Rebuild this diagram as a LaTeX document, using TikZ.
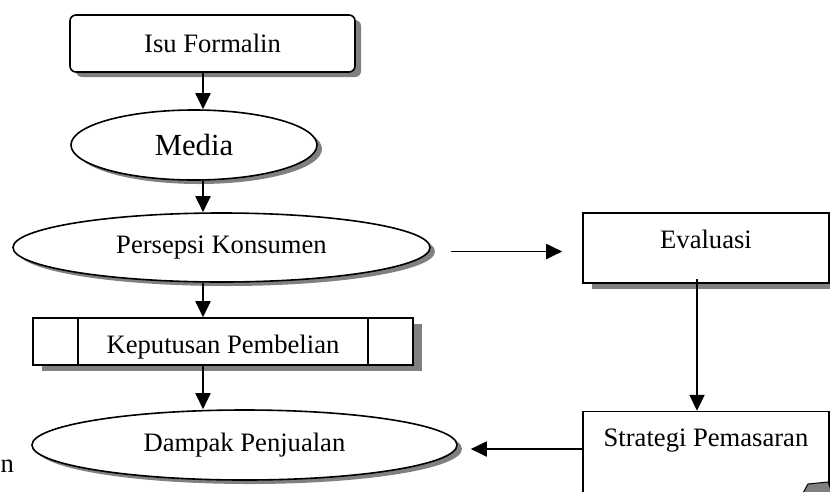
\documentclass[tikz,border=0pt]{standalone}
\usepackage{fontspec}
\setmainfont{Liberation Serif}
\usetikzlibrary{arrows.meta, positioning, shapes.geometric, shadows}

\begin{document}
\begin{tikzpicture}[x=1pt, y=-1pt,
      txt/.style={font=\fontsize{26.6}{30}\selectfont},
      big/.style={font=\fontsize{30.7}{34}\selectfont},
      rbox/.style={draw, rounded corners=6pt, line width=1.6pt, fill=white, txt, inner sep=0pt,
                   drop shadow={shadow xshift=6pt, shadow yshift=-5pt, fill=black!50, opacity=1}},
      oval/.style={ellipse, draw, line width=1.6pt, fill=white, txt, inner sep=0pt,
                   drop shadow={shadow xshift=5pt, shadow yshift=-4pt, fill=black!50, opacity=1}},
      pbox/.style={rectangle, draw, line width=1.6pt, fill=white, txt, inner sep=0pt,
                   drop shadow={shadow xshift=9pt, shadow yshift=-6pt, fill=black!50, opacity=1}},
      ar/.style={-{Triangle[length=16pt, width=15pt]}, line width=1.9pt}
    ]
    \useasboundingbox (0,0) rectangle (830,491);

    % main column
    \node[rbox, minimum width=285pt, minimum height=57pt] (isu) at (212.5,43.5) {Isu Formalin};
    \node[oval, big, minimum width=246pt, minimum height=70pt] (media) at (194,145) {Media};
    \node[oval, minimum width=417pt, minimum height=69pt] (persepsi) at (221.5,247.5) {Persepsi Konsumen};
    \node[pbox, minimum width=380pt, minimum height=47pt, text height=23pt, text depth=0pt]
        (keputusan) at (223,341.5) {Keputusan Pembelian\hspace{24pt}};
    \draw[line width=1.6pt] ([xshift=46pt]keputusan.north west) -- ([xshift=46pt]keputusan.south west);
    \draw[line width=1.6pt] ([xshift=-46pt]keputusan.north east) -- ([xshift=-46pt]keputusan.south east);
    \node[oval, minimum width=425pt, minimum height=70pt] (dampak) at (244.5,445) {Dampak Penjualan};
    \node[txt, anchor=base west, inner sep=0pt] (cut) at (0.5,472) {n};

    % right column
    \node[pbox, minimum width=246pt, minimum height=70pt, text height=18pt, text depth=18pt]
        (evaluasi) at (706,248) {Evaluasi};
    \node[pbox, minimum width=246pt, minimum height=100pt, text height=18pt, text depth=48pt,
        below=127pt of evaluasi] (strategi) {Strategi Pemasaran};
    \filldraw[fill=black!50, line width=1pt] (803,493) -- (808,484) -- (828,482) -- (832,493) -- cycle;

    \coordinate (spine) at (203,0);
    \draw[ar] (isu.south -| spine) -- (media.north -| spine);
    \draw[ar] (media.south -| spine) -- (persepsi.north -| spine);
    \draw[ar] (persepsi.south -| spine) -- (keputusan.north -| spine);
    \draw[ar] (keputusan.south -| spine) -- (dampak.north -| spine);

    \draw[ar, shorten <=20pt, shorten >=20pt] ([yshift=-4pt]persepsi.east) -- ([yshift=-4pt]persepsi.east -| evaluasi.west);
    \draw[ar] ([xshift=-9pt, yshift=5pt]evaluasi.south) -- ([xshift=-9pt]evaluasi.south |- strategi.north);
    \draw[ar, shorten >=13pt] ([yshift=-4pt]dampak.east -| strategi.west) -- ([yshift=-4pt]dampak.east);
\end{tikzpicture}
\end{document}
